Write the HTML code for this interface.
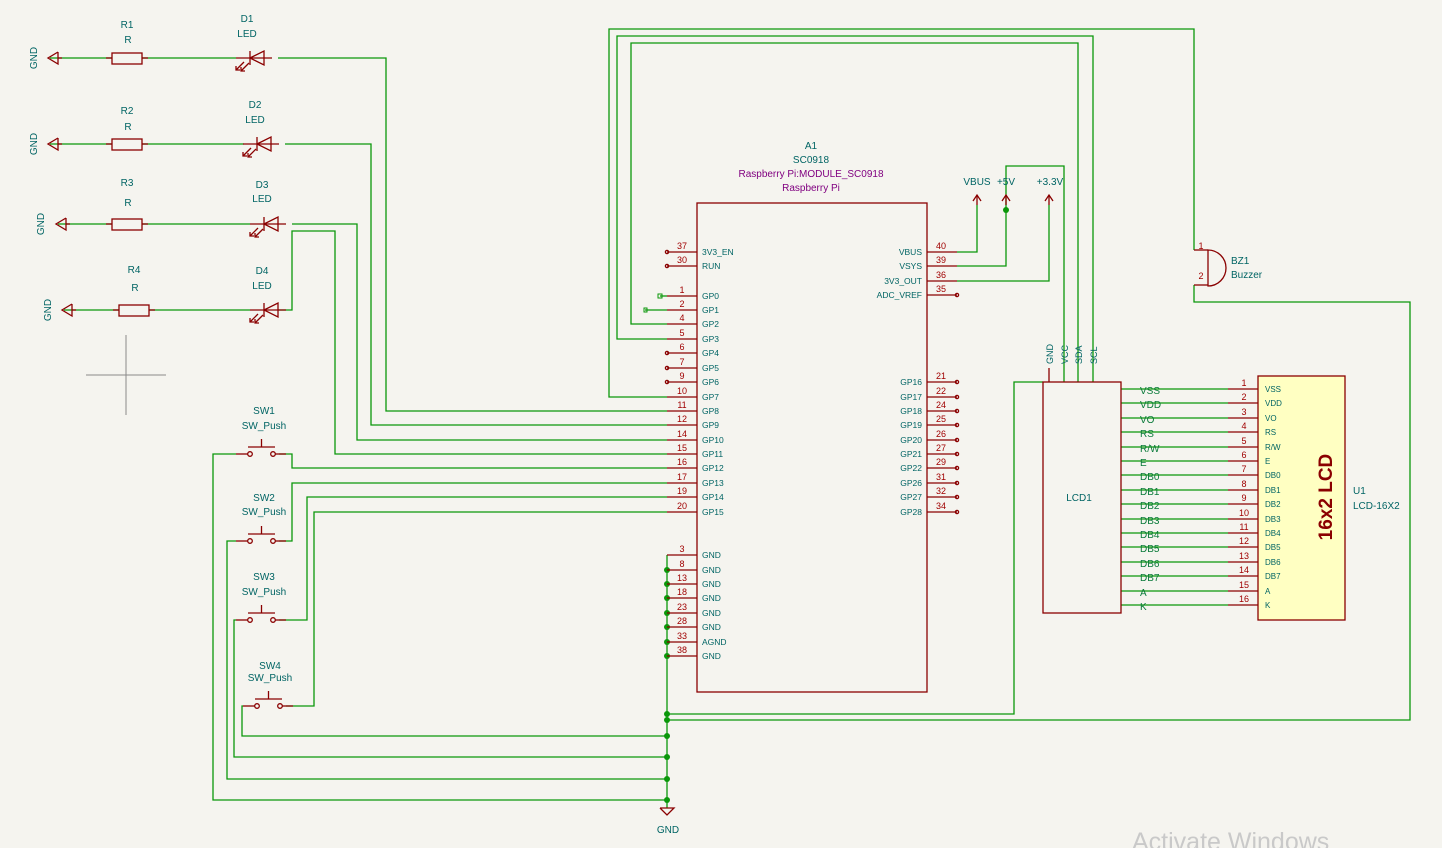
<!DOCTYPE html>
<html><head><meta charset="utf-8"><style>
html,body{margin:0;padding:0;background:#f5f4ef;}
svg{display:block}
text{font-family:"Liberation Sans",sans-serif;}
</style></head><body>
<svg id="s" width="1442" height="848" viewBox="0 0 1442 848" xmlns="http://www.w3.org/2000/svg">
<rect width="1442" height="848" fill="#f5f4ef"/>
<g id="w" stroke="#0a970a" stroke-width="1.3" fill="none">
<polyline points="142,58 236,58"/><polyline points="278,58 386,58 386,411 667,411"/>
<polyline points="142,144 244,144"/><polyline points="285,144 371,144 371,425 667,425"/>
<polyline points="142,224 250,224"/><polyline points="292,224 357,224 357,440 667,440"/>
<polyline points="149,310 250,310"/><polyline points="278,310 292,310 292,231 335,231 335,454 667,454"/>
<polyline points="50,58 112,58"/><polyline points="50,144 112,144"/><polyline points="58,224 112,224"/><polyline points="64,310 119,310"/>
<polyline points="236,454 213,454 213,800 667,800"/><polyline points="279,454 292,454 292,468 667,468"/>
<polyline points="236,541 227,541 227,779 667,779"/><polyline points="279,541 292,541 292,483 667,483"/>
<polyline points="236,620 234,620 234,757 667,757"/><polyline points="279,620 307,620 307,497 667,497"/>
<polyline points="243,706 242,706 242,736 667,736"/><polyline points="286,706 314,706 314,512 667,512"/>
<polyline points="667,555 667,808"/>
<polyline points="667,397 609,397 609,29 1194,29 1194,250"/>
<polyline points="667,339 617,339 617,36 1093,36 1093,382"/>
<polyline points="667,324 631,324 631,43 1078,43 1078,382"/>
<polyline points="660,296 667,296"/><polyline points="645,310 667,310"/>
<polyline points="957,252 977,252 977,205"/>
<polyline points="957,266 1006,266 1006,166 1064,166 1064,382"/>
<polyline points="957,281 1049,281 1049,205"/>
<polyline points="1043,382 1014,382 1014,714 667,714"/>
<polyline points="1194,285 1194,302 1410,302 1410,720 667,720"/>
</g>
<g fill="#0a970a">
<circle cx="1006" cy="210" r="3"/>
<circle cx="667" cy="570" r="3"/><circle cx="667" cy="584" r="3"/><circle cx="667" cy="598" r="3"/><circle cx="667" cy="613" r="3"/><circle cx="667" cy="627" r="3"/><circle cx="667" cy="642" r="3"/><circle cx="667" cy="656" r="3"/>
<circle cx="667" cy="714" r="3"/><circle cx="667" cy="720" r="3"/><circle cx="667" cy="736" r="3"/><circle cx="667" cy="757" r="3"/><circle cx="667" cy="779" r="3"/><circle cx="667" cy="800" r="3"/>
</g>
<rect x="658" y="294" width="4" height="4" fill="none" stroke="#0a970a"/>
<rect x="644" y="308" width="3" height="4" fill="none" stroke="#0a970a"/>
<g stroke="#8a8a8a" stroke-width="1"><line x1="86" y1="375" x2="166" y2="375"/><line x1="126" y1="335" x2="126" y2="415"/></g>
<g id="parts" stroke="#8a0000" stroke-width="1.3" fill="none"></g>
<g id="txt"></g>
<text x="1132" y="850" font-size="25" fill="#c9c9c9">Activate Windows</text>
</svg>
<script>
var P=document.getElementById('parts'),T=document.getElementById('txt');
var ps='',ts='';
function t(x,y,s,c,sz,anc,rot,extra){ts+='<text x="'+x+'" y="'+y+'" font-size="'+(sz||10)+'" fill="'+(c||'#006464')+'"'+(anc?' text-anchor="'+anc+'"':'')+(rot?' transform="rotate('+rot+' '+x+' '+y+')"':'')+(extra||'')+'>'+s+'</text>';}
var R='#8a0000',TL='#006464',NR='#a00000';
[[48,58,33],[48,144,33],[56,224,40],[62,310,47]].forEach(function(g){ps+='<polyline points="'+(g[0]+10)+','+(g[1]-6)+' '+g[0]+','+g[1]+' '+(g[0]+10)+','+(g[1]+6)+' '+(g[0]+10)+','+(g[1]-6)+'"/><line x1="'+(g[0]+10)+'" y1="'+g[1]+'" x2="'+(g[0]+14)+'" y2="'+g[1]+'"/>';t(g[2]+4,g[1],'GND',TL,10,'middle',-90);});
[[112,58,'R1',28,43,127,250,'D1',22,37,247],[112,144,'R2',114,130,127,257,'D2',108,123,255],[112,224,'R3',186,206,127,264,'D3',188,202,262],[119,310,'R4',273,291,134,264,'D4',274,289,262]].forEach(function(r){
 var y=r[1];ps+='<line x1="'+(r[0]-6)+'" y1="'+y+'" x2="'+r[0]+'" y2="'+y+'"/><rect x="'+r[0]+'" y="'+(y-5)+'" width="30" height="11"/><line x1="'+(r[0]+30)+'" y1="'+y+'" x2="'+(r[0]+36)+'" y2="'+y+'"/>';
 t(r[5],r[3],r[2],TL,10,'middle');t(r[5]+1,r[4],'R',TL,10,'middle');
 var x=r[6];ps+='<line x1="'+(x-14)+'" y1="'+y+'" x2="'+(x+22)+'" y2="'+y+'"/><polygon points="'+x+','+y+' '+(x+14)+','+(y-7)+' '+(x+14)+','+(y+7)+'"/><line x1="'+x+'" y1="'+(y-7)+'" x2="'+x+'" y2="'+(y+7)+'"/>';
 ps+='<line x1="'+(x-6)+'" y1="'+(y+4)+'" x2="'+(x-14)+'" y2="'+(y+12)+'"/><line x1="'+(x-1)+'" y1="'+(y+5)+'" x2="'+(x-9)+'" y2="'+(y+13)+'"/><polyline points="'+(x-14)+','+(y+8)+' '+(x-14)+','+(y+12)+' '+(x-10)+','+(y+12)+'"/><polyline points="'+(x-9)+','+(y+9)+' '+(x-9)+','+(y+13)+' '+(x-5)+','+(y+13)+'"/>';
 t(r[10],r[8],r[7],TL,10,'middle');t(r[10],r[9],'LED',TL,10,'middle');});
[[250,454,'SW1',264,414,429],[250,541,'SW2',264,501,515],[250,620,'SW3',264,580,595],[257,706,'SW4',270,669,681]].forEach(function(s){var x=s[0],y=s[1];
 ps+='<line x1="'+(x-14)+'" y1="'+y+'" x2="'+(x-2)+'" y2="'+y+'"/><circle cx="'+x+'" cy="'+y+'" r="2.3"/><circle cx="'+(x+23)+'" cy="'+y+'" r="2.3"/><line x1="'+(x+25)+'" y1="'+y+'" x2="'+(x+36)+'" y2="'+y+'"/><line x1="'+(x-2)+'" y1="'+(y-7)+'" x2="'+(x+25)+'" y2="'+(y-7)+'"/><line x1="'+(x+11.5)+'" y1="'+(y-7)+'" x2="'+(x+11.5)+'" y2="'+(y-15)+'"/>';
 t(s[3],s[4],s[2],TL,10,'middle');t(s[3],s[5],'SW_Push',TL,10,'middle');});
ps+='<rect x="697" y="203" width="230" height="489"/>';
var L=[[37,'3V3_EN',252,1],[30,'RUN',266,1],[1,'GP0',296],[2,'GP1',310],[4,'GP2',324],[5,'GP3',339],[6,'GP4',353,1],[7,'GP5',368,1],[9,'GP6',382,1],[10,'GP7',397],[11,'GP8',411],[12,'GP9',425],[14,'GP10',440],[15,'GP11',454],[16,'GP12',468],[17,'GP13',483],[19,'GP14',497],[20,'GP15',512],[3,'GND',555],[8,'GND',570],[13,'GND',584],[18,'GND',598],[23,'GND',613],[28,'GND',627],[33,'AGND',642],[38,'GND',656]];
L.forEach(function(p){ps+='<line x1="667" y1="'+p[2]+'" x2="697" y2="'+p[2]+'"/>';if(p[3])ps+='<circle cx="667" cy="'+p[2]+'" r="1.6"/>';t(682,p[2]-3,p[0],NR,9,'middle');t(702,p[2]+3,p[1],TL,8.5);});
var Rr=[[40,'VBUS',252],[39,'VSYS',266],[36,'3V3_OUT',281],[35,'ADC_VREF',295,1],[21,'GP16',382,1],[22,'GP17',397,1],[24,'GP18',411,1],[25,'GP19',425,1],[26,'GP20',440,1],[27,'GP21',454,1],[29,'GP22',468,1],[31,'GP26',483,1],[32,'GP27',497,1],[34,'GP28',512,1]];
Rr.forEach(function(p){ps+='<line x1="927" y1="'+p[2]+'" x2="957" y2="'+p[2]+'"/>';if(p[3])ps+='<circle cx="957" cy="'+p[2]+'" r="1.6"/>';t(941,p[2]-3,p[0],NR,9,'middle');t(922,p[2]+3,p[1],TL,8.5,'end');});
t(811,149,'A1',TL,10,'middle');t(811,163,'SC0918',TL,10,'middle');t(811,177,'Raspberry Pi:MODULE_SC0918','#800080',10,'middle');t(811,191,'Raspberry Pi','#800080',10,'middle');
[[977,'VBUS',977],[1006,'+5V',1006],[1049,'+3.3V',1050]].forEach(function(p){ps+='<polyline points="'+(p[0]-4)+',201 '+p[0]+',195 '+(p[0]+4)+',201"/><line x1="'+p[0]+'" y1="195" x2="'+p[0]+'" y2="205"/>';t(p[2],185,p[1],TL,10,'middle');});
ps+='<polyline points="660,808 674,808 667,815 660,808"/>';t(668,833,'GND',TL,10,'middle');
ps+='<rect x="1043" y="382" width="78" height="231"/><line x1="1049" y1="368" x2="1049" y2="382"/>';
t(1079,501,'LCD1',TL,10,'middle');
t(1053,364,'GND',TL,9,'start',-90);t(1068,364,'VCC',TL,9,'start',-90);t(1082,364,'SDA',TL,9,'start',-90);t(1097,364,'SCL',TL,9,'start',-90);
ps+='<rect x="1258" y="376" width="87" height="244" fill="#ffffc2"/>';
var N=['VSS','VDD','VO','RS','R/W','E','DB0','DB1','DB2','DB3','DB4','DB5','DB6','DB7','A','K'];
var wz='';
N.forEach(function(n,i){var y=Math.round(389+i*14.4);wz+='<line x1="1121" y1="'+y+'" x2="1228" y2="'+y+'"/>';ps+='<line x1="1228" y1="'+y+'" x2="1258" y2="'+y+'"/>';t(1244,y-3,i+1,NR,9,'middle');t(1265,y+3,n,TL,8);t(1140,y+5,n,'#0a7a3a',10);});
document.getElementById('w').innerHTML+=wz;
t(1332,497,'16x2 LCD',R,19,'middle',-90,' font-weight="bold"');
t(1353,494,'U1',TL,10);t(1353,509,'LCD-16X2',TL,10);
ps+='<line x1="1194" y1="250" x2="1208" y2="250"/><line x1="1194" y1="285" x2="1208" y2="285"/><path d="M1208,250 A18,18 0 0 1 1208,286 Z"/>';
t(1201,249,'1',NR,9,'middle');t(1201,279,'2',NR,9,'middle');t(1231,264,'BZ1',TL,10);t(1231,278,'Buzzer',TL,10);
P.innerHTML=ps;T.innerHTML=ts;
</script>
</body></html>
